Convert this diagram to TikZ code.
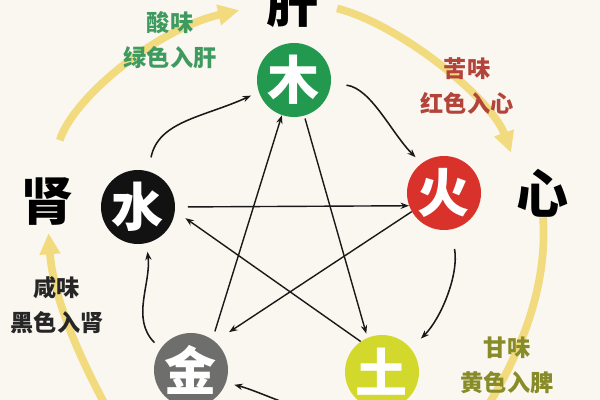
\documentclass[tikz,border=0pt]{standalone}
\usepackage{fontspec}
\newfontfamily\cjk{Noto Sans CJK SC}
\usetikzlibrary{arrows.meta}

\definecolor{paper}{HTML}{FAF7F0}
\definecolor{woodgreen}{HTML}{22994E}
\definecolor{firered}{HTML}{D8322A}
\definecolor{metalgray}{HTML}{6E6E6C}
\definecolor{earthyellow}{HTML}{D3D82C}
\definecolor{flowyellow}{HTML}{F2DB7E}
\definecolor{sourgreen}{HTML}{3E9A5E}
\definecolor{bitterred}{HTML}{B3443A}
\definecolor{sweetolive}{HTML}{878B28}

\begin{document}
\begin{tikzpicture}[x=0.025cm,y=-0.025cm,
  element/.style={circle,minimum size=1.85cm,inner sep=0pt,text=white,font=\cjk\bfseries\fontsize{37}{37}\selectfont},
  organ/.style={inner sep=0pt,font=\cjk\bfseries\fontsize{37}{37}\selectfont},
  taste/.style={align=center,font=\cjk\bfseries\fontsize{16.5}{25}\selectfont},
  flow/.style={line width=5.5pt,flowyellow,-{Triangle[length=15pt,width=14pt]}},
  star/.style={-{Stealth[length=6pt,width=4.5pt]},line width=1pt,black!90},
  wave/.style={-{Stealth[length=6pt,width=4.5pt]},line width=1.1pt,black!90}]

%PAPER
\fill[paper] (0,0) rectangle (600,400);
\useasboundingbox (0,0) rectangle (600,400);

%ORGANS
\node[organ] (gan) at (293,4) {肝};
\node[organ] (xin) at (543,193) {心};
\node[organ] (shen) at (48,202) {肾};
\coordinate (spleenside) at (485,410);
\coordinate (lungside) at (108,410);

%FLOW
% kidney to liver
\draw[flow,shorten <=28pt,shorten >=20pt] (shen.north) .. controls +(25,-80) and +(-110,25) .. (gan.west);
% liver to heart
\draw[flow,shorten <=13pt,shorten >=12pt] (gan.east) .. controls +(80,20) and +(-25,-70) .. (xin.north west);
% heart downwards
\draw[flow,-] (xin.south) .. controls +(5,70) and +(35,-55) .. (spleenside);
% up to kidney
\draw[flow,shorten >=5pt] (lungside) .. controls +(-30,-55) and +(5,70) .. (shen.south);

%TASTES
\node[taste,text=sourgreen] (sour) at (170,40) {酸味\\绿色入肝};
\node[taste,text=bitterred] (bitter) at (467,86) {苦味\\红色入心};
\node[taste,text=black!85] (salty) at (57,305) {咸味\\黑色入肾};
\node[taste,text=sweetolive] (sweet) at (507,365) {甘味\\黄色入脾};

%ELEMENTS
\node[element,fill=woodgreen] (wood) at (294,80) {木};
\node[element,fill=firered] (fire) at (444,193) {火};
\node[element,fill=black!93] (water) at (138,207) {水};
\node[element,fill=metalgray] (metal) at (191,370) {金};
\node[element,fill=earthyellow] (earth) at (382,372) {土};

%GENERATING
\draw[wave,shorten <=10pt,shorten >=6pt] (water.74) .. controls +(10,-50) and +(-55,25) .. (wood.199);
\draw[wave,shorten <=11pt,shorten >=6pt] (wood.-5) .. controls +(40,5) and +(-30,-30) .. (fire.127);
\draw[wave,shorten <=14pt,shorten >=10pt] (fire.-79) .. controls +(8,45) and +(30,-30) .. (earth.39);
\draw[wave,shorten <=8pt,shorten >=6pt] (earth.215) .. controls +(-10,40) and +(40,10) .. (metal.-20);
\draw[wave,shorten <=6pt,shorten >=6pt] (metal.145) .. controls +(-30,-30) and +(5,40) .. (water.-77);

%CONTROLLING
\draw[star,shorten <=9pt] (water.0) -- (fire.200);
\draw[star,shorten >=12pt] (fire.210) -- (metal.50);
\draw[star,shorten <=6pt] (metal.55) -- (wood.251);
\draw[star,shorten <=2pt,shorten >=3pt] (wood.-74) -- (earth.113);
\draw[star,shorten >=9pt] (earth.125) -- (water.-6);

\end{tikzpicture}
\end{document}
